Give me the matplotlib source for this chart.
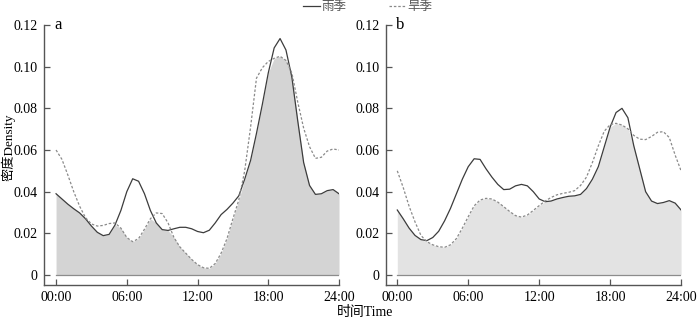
import numpy as np
import matplotlib

matplotlib.use("Agg")
import matplotlib.pyplot as plt  # noqa: E402
from matplotlib.lines import Line2D  # noqa: E402

plt.rcParams["font.family"] = ["Liberation Serif", "Noto Sans CJK SC"]

# hours, every half hour
hours = np.arange(0, 24.5, 0.5)

# panel a
rain_a = [0.039, 0.0365, 0.034, 0.0318, 0.0298, 0.027, 0.0235, 0.0205, 0.0189, 0.0195,
          0.024, 0.031, 0.040, 0.0462, 0.045, 0.039, 0.031, 0.025, 0.0218, 0.0214,
          0.0222, 0.0229, 0.0229, 0.0222, 0.0209, 0.0203, 0.0215, 0.025, 0.029, 0.0315,
          0.0345, 0.038, 0.046, 0.055, 0.068, 0.082, 0.097, 0.109, 0.1135, 0.108,
          0.095, 0.074, 0.054, 0.043, 0.0387, 0.039, 0.0405, 0.041, 0.039]
dry_a = [0.060, 0.0555, 0.048, 0.040, 0.033, 0.0275, 0.0245, 0.0235, 0.0238, 0.0247,
         0.025, 0.0225, 0.018, 0.016, 0.0175, 0.022, 0.027, 0.0298, 0.0295, 0.025,
         0.018, 0.0135, 0.0105, 0.0075, 0.005, 0.0035, 0.0032, 0.0055, 0.0105, 0.0175,
         0.027, 0.036, 0.050, 0.071, 0.0945, 0.0995, 0.1025, 0.104, 0.105, 0.103,
         0.097, 0.083, 0.0705, 0.0616, 0.056, 0.0565, 0.0595, 0.0605, 0.060]

# panel b
rain_b = [0.0312, 0.027, 0.0225, 0.019, 0.017, 0.0165, 0.018, 0.021, 0.026, 0.032,
          0.039, 0.046, 0.052, 0.0558, 0.0555, 0.051, 0.047, 0.0435, 0.041, 0.0412,
          0.0428, 0.0435, 0.0428, 0.040, 0.0365, 0.0352, 0.0355, 0.0365, 0.0372, 0.0378,
          0.038, 0.0387, 0.0415, 0.046, 0.052, 0.0615, 0.071, 0.078, 0.080, 0.0755,
          0.062, 0.051, 0.040, 0.0355, 0.0343, 0.0348, 0.0357, 0.0345, 0.0312]
dry_b = [0.050, 0.042, 0.033, 0.0255, 0.019, 0.016, 0.0145, 0.0136, 0.0133, 0.0145,
         0.0175, 0.0225, 0.028, 0.0332, 0.036, 0.0368, 0.0365, 0.035, 0.0328, 0.0305,
         0.0285, 0.0278, 0.0288, 0.031, 0.0333, 0.0355, 0.0372, 0.0385, 0.0392, 0.0397,
         0.0405, 0.043, 0.047, 0.054, 0.062, 0.069, 0.0722, 0.0728, 0.072, 0.0702,
         0.067, 0.0652, 0.065, 0.0665, 0.0685, 0.0688, 0.066, 0.0575, 0.050]

xtick_pos = [0, 6, 12, 18, 24]
xtick_labels = ["00:00", "06:00", "12:00", "18:00", "24:00"]
ytick_pos = [0, 0.02, 0.04, 0.06, 0.08, 0.10, 0.12]
ytick_labels = ["0", "0.02", "0.04", "0.06", "0.08", "0.10", "0.12"]

SOLID = "#3c3c3c"
DASH = "#8a8a8a"
AXIS = "#555555"


def draw_panel(ax, rain, dry, fill, letter, xmin):
    overlap = np.minimum(rain, dry)
    ax.fill_between(hours, 0, overlap, color=fill, linewidth=0)
    ax.plot([hours[0], hours[-1]], [0, 0], color="#8c8c8c", linewidth=0.9)
    ax.plot(hours, rain, color=SOLID, linewidth=0.9)
    ax.plot(hours, dry, color=DASH, linewidth=0.9, linestyle=(0, (2, 1.5)))
    ax.set_xlim(xmin, 24)
    ax.set_ylim(-0.0048, 0.12)
    for side in ("top", "right"):
        ax.spines[side].set_visible(False)
    for side in ("left", "bottom"):
        ax.spines[side].set_color(AXIS)
        ax.spines[side].set_linewidth(1.0)
    ax.set_xticks(xtick_pos)
    ax.set_xticklabels(xtick_labels)
    ax.set_yticks(ytick_pos)
    ax.set_yticklabels(ytick_labels)
    ax.tick_params(direction="in", length=4.5, width=0.9, color=AXIS,
                   labelsize=10, pad=4.5)
    ax.tick_params(axis="x", pad=4)
    ax.text(0.035, 1.0, letter, transform=ax.transAxes, fontsize=12,
            ha="left", va="center")


fig = plt.figure(figsize=(7, 3.21), dpi=100)
ax_a = fig.add_axes([0.0629, 0.1121, 0.4214, 0.81])
ax_b = fig.add_axes([0.551, 0.1121, 0.422, 0.81])

draw_panel(ax_a, rain_a, dry_a, "#d4d4d4", "a", -1.02)
draw_panel(ax_b, rain_b, dry_b, "#e3e3e3", "b", -0.98)

fig.text(0.012, 0.54, "密度Density", rotation=90, ha="center", va="center",
         fontsize=9.5)
fig.text(0.522, 0.028, "时间Time", ha="center", va="center", fontsize=10)

handles = [Line2D([], [], color=SOLID, linewidth=0.9),
           Line2D([], [], color=DASH, linewidth=0.9, linestyle=(0, (2, 1.5)))]
fig.legend(handles, ["雨季", "旱季"], loc="center", bbox_to_anchor=(0.525, 0.978),
           ncol=2, frameon=False, fontsize=9, handlelength=1.4, handletextpad=0.1,
           columnspacing=3.4, labelcolor="#555555")

fig.savefig("out.png", dpi=100)
